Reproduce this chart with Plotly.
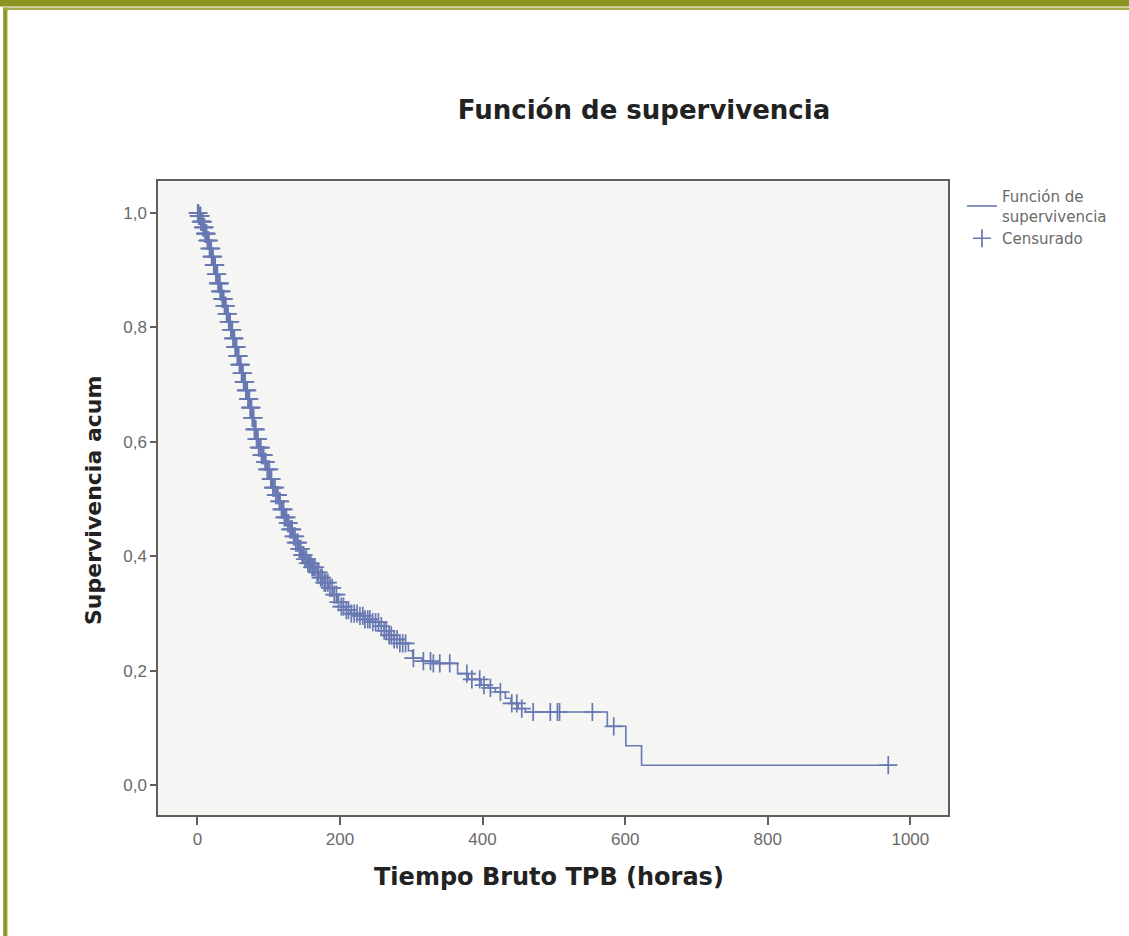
import numpy as np
import plotly.graph_objects as go

# ---- data (Kaplan-Meier steps) ----
event_times = [0, 2, 5, 8, 11, 14, 17, 20, 23, 26, 29, 32, 35, 38, 41, 44, 47, 50, 53, 56,
               59, 62, 65, 68, 71, 74, 77, 80, 83, 86, 90, 94, 98, 102, 106, 110, 114, 118,
               122, 126, 130, 134, 138, 142, 146, 150, 155, 160, 166, 172, 178, 184, 190,
               196, 202, 208, 215, 225, 235, 245, 255, 262, 268, 276, 284, 296, 302, 315,
               330, 365, 380, 398, 408, 418, 432, 440, 450, 460, 575, 601, 623]
survival = [1.0, 0.995, 0.985, 0.975, 0.964, 0.952, 0.938, 0.924, 0.909, 0.893, 0.877, 0.863,
            0.850, 0.838, 0.824, 0.810, 0.796, 0.781, 0.766, 0.750, 0.735, 0.720, 0.705,
            0.690, 0.675, 0.660, 0.642, 0.622, 0.605, 0.590, 0.577, 0.565, 0.552, 0.535,
            0.520, 0.507, 0.496, 0.482, 0.468, 0.458, 0.447, 0.435, 0.424, 0.413, 0.402,
            0.395, 0.388, 0.381, 0.372, 0.363, 0.354, 0.345, 0.333, 0.320, 0.312, 0.306,
            0.300, 0.296, 0.290, 0.285, 0.278, 0.270, 0.262, 0.255, 0.248, 0.235, 0.222,
            0.217, 0.213, 0.195, 0.185, 0.175, 0.170, 0.163, 0.152, 0.143, 0.134, 0.128,
            0.103, 0.069, 0.035]
last_time = 969

censor_times = [0.5, 1, 1.5, 2, 3, 4, 4.5, 5, 6, 7, 7.5, 8, 9, 10, 11, 11.5, 12, 13, 14, 15,
                15.5, 16, 17, 18, 19, 19.5, 20, 21, 22, 23, 24, 24.5, 25, 26, 27, 28, 29, 30,
                31, 31.5, 32, 33, 34, 35, 36, 37, 38, 39, 40, 41, 42, 43, 44, 45, 46, 47, 48,
                49, 50, 51, 52, 53, 54, 55, 56, 57, 58, 59, 60, 61, 62, 63, 64, 65, 66, 67,
                68, 69, 70, 71, 72, 73, 74, 75, 76, 77, 79, 80, 81, 82, 83, 85, 86, 88, 89,
                90, 92, 93, 95, 96, 98, 99, 101, 103, 104, 106, 107, 109, 110, 112, 113, 115,
                116, 118, 119, 121, 122, 124, 125, 127, 128, 130, 132, 133, 135, 137, 138,
                140, 141, 143, 145, 147, 149, 151, 153, 155, 157, 159, 161, 163, 165, 168,
                170, 173, 175, 178, 180, 183, 186, 189, 192, 195, 198, 202, 205, 209, 212,
                216, 220, 224, 228, 232, 235, 239, 242, 246, 250, 254, 258, 262, 265, 269,
                272, 276, 280, 284, 288, 292, 303, 317, 327, 331, 340, 354, 378, 385, 396,
                402, 411, 425, 441, 448, 455, 471, 495, 505, 508, 554, 584, 969]

x_ticks = [0, 200, 400, 600, 800, 1000]
y_ticks = [0.0, 0.2, 0.4, 0.6, 0.8, 1.0]

# ---- build traces ----
line_x = list(event_times) + [last_time]
line_y = list(survival) + [survival[-1]]
idx = np.searchsorted(np.array(event_times), np.array(censor_times), side="right") - 1
censor_y = [survival[i] for i in idx]

blue = "#6878b2"
fig = go.Figure()
fig.add_trace(go.Scatter(x=line_x, y=line_y, mode="lines", line=dict(shape="hv", color=blue, width=1.6),
                         name="Función de<br>supervivencia"))
fig.add_trace(go.Scatter(x=censor_times, y=censor_y, mode="markers", name="Censurado",
                         marker=dict(symbol="cross-thin", size=13, color=blue,
                                     line=dict(color=blue, width=1.7))))

W, H = 1129, 936
L, R, T, B = 158, 948, 181, 815
def px(x):
    return (x - L) / (R - L)
def py(y):
    return (B - y) / (B - T)

axis_col = "#625d58"
tick_font = dict(family="Liberation Sans", size=17, color="#6a6a6a")
fig.update_layout(
    width=W, height=H,
    margin=dict(l=L, r=W - R, t=T, b=H - B, pad=0),
    paper_bgcolor="white", plot_bgcolor="#f5f5f3",
    separators=",.",
    showlegend=True,
    legend=dict(x=px(962), y=py(180), xanchor="left", yanchor="top", xref="paper", yref="paper",
                font=dict(family="DejaVu Sans", size=15, color="#6a6a6a"),
                bgcolor="rgba(0,0,0,0)", tracegroupgap=0, itemwidth=30),
    title=dict(text="<b>Función de supervivencia</b>", x=644 / W, y=1 - 110 / H,
               xref="container", yref="container", xanchor="center", yanchor="middle",
               font=dict(family="DejaVu Sans", size=26, color="#222222")),
    xaxis=dict(range=[-55.2, 1052.8], tickvals=x_ticks, ticks="outside", ticklen=8, tickwidth=1.5,
               tickcolor=axis_col, showline=True, linecolor=axis_col, linewidth=1.5, mirror=True,
               showgrid=False, zeroline=False, tickfont=tick_font),
    yaxis=dict(range=[-0.052, 1.056], tickvals=y_ticks, tickformat=".1f", ticks="outside", ticklen=6,
               tickwidth=1.5, tickcolor=axis_col, showline=True, linecolor=axis_col, linewidth=1.5,
               mirror=True, showgrid=False, zeroline=False, tickfont=tick_font),
)

fig.add_annotation(text="<b>Tiempo Bruto TPB (horas)</b>", x=px(549), y=py(877), xref="paper", yref="paper",
                   showarrow=False, xanchor="center", yanchor="middle",
                   font=dict(family="DejaVu Sans", size=24, color="#222222"))
fig.add_annotation(text="<b>Supervivencia acum</b>", x=px(93), y=py(501), xref="paper", yref="paper",
                   showarrow=False, xanchor="center", yanchor="middle", textangle=-90,
                   font=dict(family="DejaVu Sans", size=22, color="#222222"))

# decorative page frame
olive = "#8b9421"
light_olive = "#a5ab45"
fig.add_shape(type="rect", xref="paper", yref="paper", x0=px(0), x1=px(W), y0=py(0), y1=py(6.5),
              fillcolor=olive, line=dict(width=0), layer="above")
fig.add_shape(type="rect", xref="paper", yref="paper", x0=px(3), x1=px(W), y0=py(7.5), y1=py(10),
              fillcolor=light_olive, line=dict(width=0), layer="above")
fig.add_shape(type="rect", xref="paper", yref="paper", x0=px(3), x1=px(7.5), y0=py(7.5), y1=py(H),
              fillcolor=light_olive, line=dict(width=0), layer="above")
fig.add_shape(type="rect", xref="paper", yref="paper", x0=px(4), x1=px(6.5), y0=py(10), y1=py(H),
              fillcolor=olive, line=dict(width=0), layer="above")

fig.write_html("out.html")
